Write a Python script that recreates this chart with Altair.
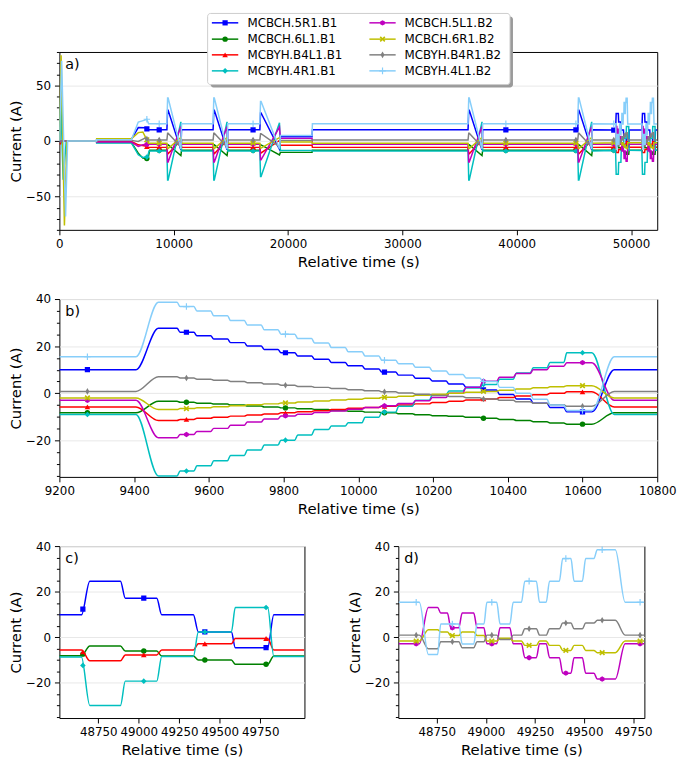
import altair as alt
import numpy as np
import pandas as pd

SERIES = ["MCBCH.5R1.B1", "MCBCH.6L1.B1", "MCBYH.B4L1.B1", "MCBYH.4R1.B1",
          "MCBCH.5L1.B2", "MCBCH.6R1.B2", "MCBYH.B4R1.B2", "MCBYH.4L1.B2"]
COLORS = ["#0000ff", "#008000", "#ff0000", "#00bfbf", "#bf00bf", "#bfbf00", "#808080", "#87cefa"]
X_PATH = "M-1,-0.6L-0.6,-1L0,-0.4L0.6,-1L1,-0.6L0.4,0L1,0.6L0.6,1L0,0.4L-0.6,1L-1,0.6L-0.4,0Z"
HEX_PATH = "M0,-1L0.866,-0.5L0.866,0.5L0,1L-0.866,0.5L-0.866,-0.5Z"
THIN_D = "M0,-1L0.6,0L0,1L-0.6,0Z"
PLUS = "M-1,0L1,0M0,-1L0,1"
SHAPES = ["square", "circle", "triangle-up", "diamond", HEX_PATH, X_PATH, THIN_D, PLUS]
SIZES = [28, 30, 32, 32, 30, 34, 44, 44]
FILLED = [True, True, True, True, True, True, True, False]

# ---------------- panel b: one cycle ----------------
B_V0 = [10.0, -8.3, -5.8, -9.0, -3.0, -2.0, 0.8, 15.5]
B_STEP_T = [9515, 9560, 9605, 9650, 9695, 9740, 9785, 9830, 9875, 9920, 9965, 10010,
            10055, 10100, 10145, 10190, 10235, 10280, 10325, 10370, 10415, 10460, 10505, 10550]
STEP_RAMP = 8
B_LEVELS = {
    "MCBCH.5R1.B1": [27.6, 25.9, 24.4, 23.0, 21.5, 20.1, 18.6, 17.2, 15.8, 14.4, 13.1, 11.7, 10.3,
                     9.0, 7.7, 6.4, 5.2, 3.9, 2.6, 1.4, -0.5, -2.4, -4.2, -6.0, -7.9],
    "MCBCH.6L1.B1": [-3.4, -3.8, -4.2, -4.6, -5.0, -5.4, -5.8, -6.2, -6.6, -6.9, -7.3, -7.6, -8.0,
                     -8.3, -8.7, -9.1, -9.5, -9.8, -10.2, -10.6, -11.1, -11.6, -12.1, -12.6, -13.1],
    "MCBYH.B4L1.B1": [-11.6, -11.1, -10.6, -10.2, -9.7, -9.2, -8.8, -8.3, -7.8, -7.4, -6.9, -6.4, -6.0,
                      -5.5, -5.0, -4.5, -3.9, -3.4, -2.9, -2.4, -1.8, -1.2, -0.6, 0.0, 0.6],
    "MCBYH.4R1.B1": [-35.1, -33.0, -30.8, -28.6, -26.4, -24.1, -22.0, -19.9, -17.7, -15.4, -13.9, -12.5,
                     -10.2, -8.0, -5.5, -3.0, -0.6, 1.0, 2.2, 3.7, 6.0, 8.6, 10.8, 13.1, 17.2],
    "MCBCH.5L1.B2": [-18.9, -17.5, -16.2, -14.9, -13.6, -12.2, -10.9, -9.6, -8.9, -8.2, -7.5, -6.8, -6.0,
                     -5.3, -4.3, -3.2, -1.8, 0.0, 2.5, 5.1, 6.8, 8.4, 10.0, 11.5, 13.0],
    "MCBCH.6R1.B2": [-6.9, -6.5, -6.1, -5.7, -5.3, -4.9, -4.5, -4.1, -3.7, -3.3, -2.9, -2.5, -2.1,
                     -1.7, -1.3, -0.8, -0.4, 0.0, 0.4, 0.8, 1.3, 1.8, 2.3, 2.8, 3.2],
    "MCBYH.B4R1.B2": [7.0, 6.5, 6.0, 5.5, 5.0, 4.5, 3.9, 3.4, 2.9, 2.5, 2.0, 1.5, 1.1,
                      0.6, 0.1, -0.4, -0.9, -1.4, -1.9, -2.4, -3.0, -3.6, -4.2, -4.9, -5.5],
    "MCBYH.4L1.B2": [38.6, 36.8, 34.9, 32.9, 30.9, 29.0, 27.0, 25.1, 23.2, 21.3, 19.4, 17.6, 15.8,
                     14.0, 12.5, 11.0, 9.5, 8.0, 6.5, 5.0, 2.5, 0.0, -2.5, -5.0, -7.3],
}
B_MARK_T = [9275, 9540, 9805, 10070, 10335, 10600]

# ---------------- panel c (B1 magnets) ----------------
C_T = [48510, 48646, 48698, 48887, 48917, 49111, 49142, 49337, 49368, 49572, 49596, 49796, 49834, 50023]
C_V = {
    "MCBCH.5R1.B1": [9.8, 9.8, 24.6, 24.6, 17.1, 17.1, 9.8, 9.8, 2.3, 2.3, -4.6, -4.6, 9.8, 9.8],
    "MCBCH.6L1.B1": [-8.2, -8.2, -3.9, -3.9, -6.1, -6.1, -8.3, -8.3, -10.0, -10.0, -11.9, -11.9, -8.3, -8.3],
    "MCBYH.B4L1.B1": [-5.6, -5.6, -10.4, -10.4, -7.8, -7.8, -5.6, -5.6, -2.9, -2.9, -0.6, -0.6, -5.6, -5.6],
    "MCBYH.4R1.B1": [-8.7, -8.7, -30.0, -30.0, -19.3, -19.3, -8.5, -8.5, 2.3, 2.3, 13.0, 13.0, -8.5, -8.5],
}
C_MARK_T = [48655, 49031, 49408, 49786]

# ---------------- panel d (B2 magnets) ----------------
D_T = [48556, 48661, 48707, 48754, 48770, 48804, 48821, 48862, 48879, 48938, 48955, 48990, 49005, 49055,
       49072, 49122, 49139, 49181, 49198, 49257, 49273, 49307, 49324, 49374, 49391, 49433, 49449, 49491,
       49508, 49550, 49567, 49659, 49709, 49807]
D_V = {
    "MCBCH.5L1.B2": [-2.9, -2.9, 13.0, 13.0, 10.6, 10.6, 4.1, 4.1, 10.6, 10.6, 4.1, 4.1, -2.9, -2.9,
                     4.1, 4.1, -2.9, -2.9, -9.0, -9.0, -2.9, -2.9, -9.0, -9.0, -15.8, -15.8, -9.0, -9.0,
                     -15.8, -15.8, -18.4, -18.4, -2.9, -2.9],
    "MCBCH.6R1.B2": [-1.7, -1.7, 3.3, 3.3, 2.3, 2.3, 0.7, 0.7, 2.3, 2.3, 0.7, 0.7, -1.7, -1.7,
                     -0.5, -0.5, -1.7, -1.7, -3.6, -3.6, -1.7, -1.7, -3.6, -3.6, -5.8, -5.8, -3.6, -3.6,
                     -5.8, -5.8, -6.8, -6.8, -1.7, -1.7],
    "MCBYH.B4R1.B2": [0.9, 0.9, -5.1, -5.1, -2.0, -2.0, -2.0, -2.0, -4.6, -4.6, -2.0, -2.0, 0.9, 0.9,
                      -1.0, -1.0, 0.9, 0.9, 3.7, 3.7, 0.9, 0.9, 3.7, 3.7, 6.2, 6.2, 3.7, 3.7,
                      6.2, 6.2, 7.4, 7.4, 0.9, 0.9],
    "MCBYH.4L1.B2": [15.3, 15.3, -7.6, -7.6, 5.8, 5.8, 5.8, 5.8, -3.0, -3.0, 5.8, 5.8, 15.3, 15.3,
                     5.8, 5.8, 15.3, 15.3, 24.6, 24.6, 15.3, 15.3, 24.6, 24.6, 34.5, 34.5, 24.6, 24.6,
                     34.5, 34.5, 38.4, 38.4, 15.3, 15.3],
}
D_MARK_T = [48645, 48829, 49030, 49220, 49407, 49592, 49785]

# ---------------- panel a (full run) ----------------
A_PRE_T = {
    "MCBCH.5R1.B1": [0, 3250, 3260, 6300, 6900, 7500, 7800],
    "MCBCH.6L1.B1": [0, 3250, 3260, 6300, 6900, 7300, 7750, 7900],
    "MCBYH.B4L1.B1": [0, 120, 200, 3250, 3260, 6300, 6900, 7500, 7800],
    "MCBYH.4R1.B1": [0, 110, 330, 600, 3250, 3260, 6300, 6900, 7300, 7700, 7850],
    "MCBCH.5L1.B2": [0, 3250, 3260, 6300, 6900, 7300, 7800],
    "MCBCH.6R1.B2": [0, 150, 440, 660, 3250, 3260, 6300, 6900, 7300, 7550, 7800],
    "MCBYH.B4R1.B2": [0, 3250, 3260, 6300, 6900, 7500, 7800],
    "MCBYH.4L1.B2": [0, 200, 540, 720, 3250, 3260, 6300, 6900, 7400, 7650, 7800],
}
A_PRE_V = {
    "MCBCH.5R1.B1": [0, 0, 1.5, 1.5, 12.0, 11.8, 10.0],
    "MCBCH.6L1.B1": [0, 0, -1.5, -1.5, -11.0, -15.5, -16.0, -8.3],
    "MCBYH.B4L1.B1": [-2.5, -2.5, 0, 0, -0.5, -0.5, -3.5, -4.5, -5.8],
    "MCBYH.4R1.B1": [0, 40, -35, 0, 0, -1.8, -1.8, -12.5, -14.8, -14.5, -9.0],
    "MCBCH.5L1.B2": [0, 0, -1.0, -1.0, -5.0, -3.5, -3.0],
    "MCBCH.6R1.B2": [0, 77, -76, 0, 0, 2.0, 2.0, 7.5, 8.0, 3.0, -2.0],
    "MCBYH.B4R1.B2": [0, 0, 0.5, 0.5, -0.5, 2.5, 0.8],
    "MCBYH.4L1.B2": [0, 72, -68, 0, 0, 1.0, 1.0, 17.0, 18.5, 19.5, 15.5],
}
CYC_T = [9405, 9465, 9510, 10625, 10685]
CYC_OFF_EARLY = [0, 4040]
CYC_OFF_LATE = [26338, 35932]
C3_T = [17533, 17593, 17640, 19250, 19330, 22100, 22130]
C3_PEAK = [25.2, -3.6, -10.8, -32.0, -17.0, -6.4, 6.5, 35.5]
C3_END = [-7.5, -12.5, 0.4, 16.3, 12.5, 3.0, -5.2, -7.0]
STATE_B = [3.8, -10.3, -3.8, -8.6, 2.3, -1.0, 0.5, 4.8]
BLOCK2_OFF = 2300
A_END = 52290
A_MARK_T = [7650, 8730, 16940, 39050, 45176, 48487]


def b_points(i):
    name = SERIES[i]
    v0, L = B_V0[i], B_LEVELS[name]
    t = [9200, 9405, 9465]
    v = [v0, v0, L[0]]
    for k, ts in enumerate(B_STEP_T):
        t += [ts, ts + STEP_RAMP]
        v += [L[k], L[k + 1]]
    t += [10625, 10685, 10800]
    v += [L[-1], v0, v0]
    return t, v


def cd_points(i):
    name = SERIES[i]
    if name in C_V:
        return list(C_T), list(C_V[name])
    return list(D_T), list(D_V[name])


def a_points(i):
    name = SERIES[i]
    v0, L = B_V0[i], B_LEVELS[name]
    t = list(A_PRE_T[name])
    v = list(A_PRE_V[name])

    def cyc(off):
        return [x + off for x in CYC_T], [v0, L[0], L[0], L[-1], v0]

    for off in CYC_OFF_EARLY:
        ct, cv = cyc(off)
        t += ct
        v += cv
    t += C3_T
    v += [v0, C3_PEAK[i], C3_PEAK[i], C3_END[i], STATE_B[i], STATE_B[i], v0]
    for off in CYC_OFF_LATE:
        ct, cv = cyc(off)
        t += ct
        v += cv
    bt, bv = cd_points(i)
    t += bt[1:-1]
    v += bv[1:-1]
    t += [x + BLOCK2_OFF for x in bt[1:-1]]
    v += bv[1:-1]
    t += [A_END]
    v += [bv[-1]]
    return t, v


DUMMY = pd.DataFrame({"k": [0]})


def xaxis(vals):
    return alt.Axis(values=vals, format="d", title="Relative time (s)", grid=False, tickSize=5,
                    tickColor="black", labelPadding=4, titlePadding=5, domain=False,
                    labelFlush=False, labelOverlap=False, labelFontSize=12, titleFontSize=15)


def yaxis(vals, major):
    test = f"abs(datum.value) % {major} === 0"
    return alt.Axis(values=vals, title="Current (A)", grid=True, gridColor="#e8e8e8",
                    gridOpacity={"condition": {"test": test, "value": 1}, "value": 0},
                    tickSize={"condition": {"test": test, "value": 5}, "value": 3},
                    labelExpr=f"{test} ? replace(format(datum.value, 'd'), '-', '\u2212') : ''",
                    domain=False, tickColor="black", labelPadding=4, minExtent=35, maxExtent=35,
                    titlePadding=1, labelFontSize=12, titleFontSize=15, labelOverlap=False)


def make_panel(which, builder, mark_t, xdom, ydom, xvals, yvals, major, w, h, letter, interp,
               legend=False):
    layers = []
    xenc = alt.X("t:Q", scale=alt.Scale(domain=xdom, nice=False, zero=False), axis=xaxis(xvals))
    yenc = alt.Y("v:Q", scale=alt.Scale(domain=ydom, nice=False, zero=False), axis=yaxis(yvals, major))
    for i in which:
        t, v = builder(i)
        df = pd.DataFrame({"t": t, "v": v})
        layers.append(alt.Chart(df).mark_line(color=COLORS[i], strokeWidth=1.5, interpolate=interp,
                                              clip=True).encode(x=xenc, y=yenc))
        mt = [m for m in mark_t if xdom[0] <= m <= xdom[1]]
        mdf = pd.DataFrame({"t": mt, "v": np.interp(mt, t, v)})
        layers.append(alt.Chart(mdf).mark_point(shape=SHAPES[i], filled=FILLED[i], size=SIZES[i],
                                                color=COLORS[i], opacity=1, strokeWidth=1.2,
                                                clip=True).encode(x=xenc, y=yenc))
    layers.append(alt.Chart(DUMMY).mark_text(text=letter, align="left", baseline="alphabetic",
                                             fontSize=14.5, font="DejaVu Sans", color="black")
                  .encode(x=alt.value(6), y=alt.value(17.5)))
    if legend:
        layers += legend_layers()
    return alt.layer(*layers).properties(width=w, height=h)


LEG_BOX = (150, 456, -39, 33)
LEG_ROWS = [-29.5, -13.0, 2.9, 19.1]
LEG_COLS = [(154.3, 181.0, 167.7, 190.3), (313.7, 340.3, 327.0, 349.3)]


def legend_layers():
    x1, x2, y1, y2 = LEG_BOX
    out = [
        alt.Chart(DUMMY).mark_rect(fill="#9a9a9a", cornerRadius=3)
        .encode(x=alt.value(x1 + 3), x2=alt.value(x2 + 3), y=alt.value(y1 + 3), y2=alt.value(y2 + 3)),
        alt.Chart(DUMMY).mark_rect(fill="white", stroke="#cccccc", strokeWidth=1, cornerRadius=3)
        .encode(x=alt.value(x1), x2=alt.value(x2), y=alt.value(y1), y2=alt.value(y2)),
    ]
    for i, name in enumerate(SERIES):
        col, row = divmod(i, 4)
        lx1, lx2, mx, tx = LEG_COLS[col]
        ry = LEG_ROWS[row]
        out.append(alt.Chart(DUMMY).mark_rule(color=COLORS[i], strokeWidth=1.5)
                   .encode(x=alt.value(lx1), x2=alt.value(lx2), y=alt.value(ry)))
        out.append(alt.Chart(DUMMY).mark_point(shape=SHAPES[i], filled=FILLED[i], size=SIZES[i],
                                               color=COLORS[i], opacity=1, strokeWidth=1.2)
                   .encode(x=alt.value(mx), y=alt.value(ry)))
        out.append(alt.Chart(DUMMY).mark_text(text=name, align="left", baseline="middle", fontSize=12,
                                              font="DejaVu Sans", color="black")
                   .encode(x=alt.value(tx), y=alt.value(ry)))
    return out


ALL = list(range(8))
A_Y = list(range(-80, 81, 10))
BCD_Y = list(range(-35, 41, 5))

pa = make_panel(ALL, a_points, A_MARK_T, [0, A_END], [-80, 80],
                [0, 10000, 20000, 30000, 40000, 50000], A_Y, 50, 605, 180, "a)", "linear", legend=True)
pb = make_panel(ALL, b_points, B_MARK_T, [9200, 10800], [-35.5, 40],
                list(range(9200, 10801, 200)), BCD_Y, 20, 605, 180, "b)", "monotone")
pc = make_panel([0, 1, 2, 3], cd_points, C_MARK_T, [48510, 50023], [-35.5, 40],
                [48750, 49000, 49250, 49500, 49750], BCD_Y, 20, 248, 174, "c)", "monotone")
pd_ = make_panel([4, 5, 6, 7], cd_points, D_MARK_T, [48554, 49807], [-35.5, 40],
                 [48750, 49000, 49250, 49500, 49750], BCD_Y, 20, 249, 174, "d)", "monotone")

chart = alt.vconcat(
    pa, pb, alt.hconcat(pc, pd_, spacing=95, bounds="flush"),
    spacing=70, bounds="flush"
).properties(
    padding={"left": 0, "top": 0, "right": 0, "bottom": 0}
).configure(
    background="white"
).configure_axis(
    labelFont="DejaVu Sans", titleFont="DejaVu Sans", labelColor="black", titleColor="black",
    titleFontWeight="normal"
).configure_view(
    stroke="black", strokeWidth=1
).configure_text(font="DejaVu Sans")

chart.save("out.html", embed_options={"renderer": "svg", "actions": False})
